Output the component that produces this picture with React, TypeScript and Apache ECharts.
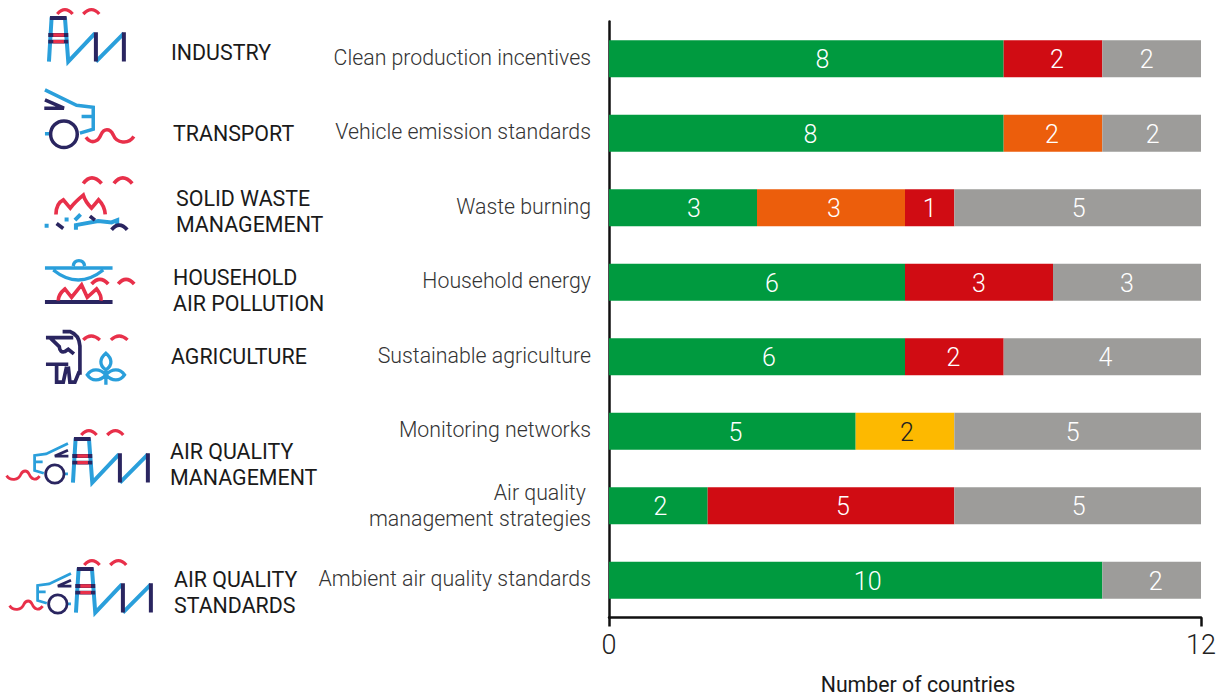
import React, { useEffect, useRef } from "react";
import * as echarts from "echarts";

const categories = [
  "Clean production incentives",
  "Vehicle emission standards",
  "Waste burning",
  "Household energy",
  "Sustainable agriculture",
  "Monitoring networks",
  "Air quality \nmanagement strategies",
  "Ambient air quality standards",
];
const green = [8, 8, 3, 6, 6, 5, 2, 10];
const orange = [null, 2, 3, null, null, null, null, null];
const yellow = [null, null, null, null, null, 2, null, null];
const red = [2, null, 1, 3, 2, null, 5, null];
const grey = [2, 2, 5, 3, 4, 5, 5, 2];
const xTicks = [0, 12];
const xTitle = "Number of countries";
const sectors = [
  "INDUSTRY",
  "TRANSPORT",
  "SOLID WASTE\nMANAGEMENT",
  "HOUSEHOLD\nAIR POLLUTION",
  "AGRICULTURE",
  "AIR QUALITY\nMANAGEMENT",
  "AIR QUALITY\nSTANDARDS",
];

// label placement inside each bar, in pixels from the segment centre
const greenNudge = [16, 4, 11, 15, 12, 3, 2, 12];
const orangeNudge = [0, -1, 3, 0, 0, 0, 0, 0];
const yellowNudge = [0, 0, 0, 0, 0, 2, 0, 0];
const redNudge = [4, 0, 0, 0, -1, 0, 12, 0];
const greyNudge = [-5, 1, 1, 0, 3, -5, 1, 4];
const sectorAnchors = [
  [171, 52],
  [173, 133],
  [176, 211],
  [173, 290],
  [171, 356],
  [170, 464],
  [174, 592],
];

const BLUE = "#2a9fdb";
const NAVY = "#2a2560";
const AIR = "#e8304a";

const SHAPES: Record<string, string> = {
  facBlue: "M147 185 L155 52 M195 52 L205 185 L285 100 M288 185 L372 100",
  facNavy: "M288 97 V185 M372 97 V185 M150 54 H200 M145 105 H205 M145 125 H205",
  facRed: "M160 105 H192 M160 125 H192 M172 42 Q195 16 218 42 M250 42 Q275 16 298 42",
  carBlue: "M135 270 L230 316 L280 322 V388 L240 400 M245 350 H280 M135 402 H150",
  carNavy: "M135 300 L192 325 H133 M232 403 A40 40 0 1 1 152 403 A40 40 0 1 1 232 403",
  carRed: "M258 412 C275 435 295 425 303 405 C312 385 330 385 340 405 C350 430 385 435 402 410",
  fireRed: "M168 644 C168 620 178 606 190 600 L211 625 C222 610 238 596 250 586 C256 605 265 615 275 625 L296 600 C308 612 315 628 316 644 M250 551 Q275 517 305 551 M342 551 Q368 517 397 551",
  fireBlue: "M134 678 H146 M194 659 H206 M225 661 L242 644 M228 690 V676 L295 664 L335 668 L352 661 V681",
  fireNavy: "M170 671 L190 686 M270 649 L285 661 M335 690 Q358 662 382 690",
  potBlue: "M135 84 H338 M160 90 Q235 150 310 90 M220 78 Q222 62 237 62 Q252 62 254 78",
  potNavy: "M135 186 H338",
  potRed: "M175 182 C175 165 185 155 195 147 L215 172 L245 135 L262 172 L290 147 C300 160 305 172 303 182 M275 132 Q300 104 325 132 M355 132 Q378 104 403 132",
  cowNavy: "M188 275 H210 Q238 285 240 318 V405 M138 293 H220 M150 293 L178 320 Q180 340 195 335 L205 328 L222 342 M138 373 H205 M170 373 V427 H190 L200 380 M205 380 L210 427 H225 L238 395",
  cowBlue: "M318 435 V390 C296 375 300 355 318 340 C336 355 340 375 318 390 M318 405 C300 385 275 385 262 405 C275 425 300 425 318 405 C336 385 361 385 374 405 C361 425 336 425 318 405",
  cowRed: "M250 300 Q273 276 300 300 M333 300 Q358 276 383 300",
};
Object.entries(SHAPES).forEach(([name, d]) => {
  echarts.graphic.registerShape(name, echarts.graphic.extendPath(d, {}));
});

const stroke = (type: string, color: string, lineWidth: number) => ({
  type,
  silent: true,
  style: { fill: "none", stroke: color, lineWidth },
});
const factoryParts = () => [
  stroke("facBlue", BLUE, 12),
  stroke("facNavy", NAVY, 12),
  stroke("facRed", AIR, 10),
];
const carParts = (w: number) => [
  stroke("carBlue", BLUE, w),
  stroke("carNavy", NAVY, w),
  stroke("carRed", AIR, w),
];
const icon = (x: number, y: number, children: any[], sx = 1 / 3, sy = 1 / 3) => ({
  type: "group",
  x,
  y,
  scaleX: sx,
  scaleY: sy,
  silent: true,
  children,
});

const combined = (dx: number, dy: number) => [
  icon(24 + dx, 421 + dy, factoryParts()),
  icon(99 + dx, 381.3 + dy, carParts(12), -0.23, 0.23),
];

const iconGraphics = [
  icon(0, 0, factoryParts()),
  icon(0, 0, carParts(10.5)),
  icon(0, 0, [
    stroke("fireRed", AIR, 11),
    stroke("fireBlue", BLUE, 12),
    stroke("fireNavy", NAVY, 11),
  ]),
  icon(0, 240, [
    stroke("potBlue", BLUE, 10),
    stroke("potNavy", NAVY, 12),
    stroke("potRed", AIR, 11),
  ]),
  icon(0, 240, [
    stroke("cowNavy", NAVY, 11),
    stroke("cowBlue", BLUE, 10),
    stroke("cowRed", AIR, 10),
  ]),
  ...combined(0, 0),
  ...combined(3, 130),
];

const sectorTexts = sectors.map((text, i) => ({
  type: "text",
  x: sectorAnchors[i][0],
  y: sectorAnchors[i][1],
  silent: true,
  style: {
    text,
    fill: "#1a1a1a",
    font: '400 21.4px Roboto',
    lineHeight: 26,
    textAlign: "left",
    textVerticalAlign: "middle",
  },
}));

const withNudge = (values: (number | null)[], nudges: number[]) =>
  values.map((value, i) => ({
    value,
    label: { offset: [nudges[i], 1] },
  }));

const makeSeries = (
  name: string,
  values: (number | null)[],
  nudges: number[],
  color: string,
  labelColor = "#ffffff"
) => ({
  name,
  type: "bar",
  stack: "total",
  barWidth: 37,
  data: withNudge(values, nudges),
  itemStyle: { color },
  label: {
    show: true,
    position: "inside",
    color: labelColor,
    fontFamily: "Roboto",
    fontWeight: 300,
    fontSize: 25,
    formatter: (p: any) => (p.value == null ? "" : String(p.value)),
  },
});

export default function App() {
  const ref = useRef<HTMLDivElement>(null);
  useEffect(() => {
    document.body.style.margin = "0";
    const chart = echarts.init(ref.current!, undefined, { renderer: "svg" });
    chart.setOption({
      animation: false,
      backgroundColor: "#ffffff",
      grid: { left: 609, right: 17, top: 21.5, height: 596, containLabel: false, outerBoundsMode: "none" },
      xAxis: {
        type: "value",
        min: xTicks[0],
        max: xTicks[1],
        interval: 12,
        name: xTitle,
        nameLocation: "middle",
        nameGap: 56,
        nameTextStyle: {
          fontFamily: "Roboto",
          fontSize: 21.3,
          color: "#1a1a1a",
          padding: [0, 0, 0, 26],
        },
        axisLine: { show: true, lineStyle: { color: "#111111", width: 2.5 } },
        axisTick: { show: true, length: 9, lineStyle: { color: "#111111", width: 2.5 } },
        axisLabel: {
          fontFamily: "Roboto",
          fontWeight: 300,
          fontSize: 27,
          color: "#222222",
          margin: 14,
          hideOverlap: false,
        },
        splitLine: { show: false },
      },
      yAxis: {
        type: "category",
        inverse: true,
        data: categories,
        axisLine: { show: true, lineStyle: { color: "#111111", width: 2.5 } },
        axisTick: { show: false },
        axisLabel: {
          fontFamily: "Roboto",
          fontWeight: 300,
          fontSize: 21.3,
          lineHeight: 26,
          color: "#333333",
          margin: 18,
          align: "right",
          interval: 0,
          formatter: (v: string) => (v.includes("\n") ? v : `{up|${v}}`),
          rich: {
            up: {
              fontFamily: "Roboto",
              fontWeight: 300,
              fontSize: 21.3,
              lineHeight: 26,
              color: "#333333",
              padding: [0, 0, 3, 0],
            },
          },
        },
      },
      series: [
        makeSeries("Green", green, greenNudge, "#009a3f"),
        makeSeries("Orange", orange, orangeNudge, "#ec5e0c"),
        makeSeries("Yellow", yellow, yellowNudge, "#fdb900", "#222222"),
        makeSeries("Red", red, redNudge, "#d00c13"),
        makeSeries("Grey", grey, greyNudge, "#9d9c9a"),
      ],
      graphic: { elements: [...iconGraphics, ...sectorTexts] },
    });
    return () => chart.dispose();
  }, []);
  return <div ref={ref} style={{ width: 1218, height: 695 }} />;
}
